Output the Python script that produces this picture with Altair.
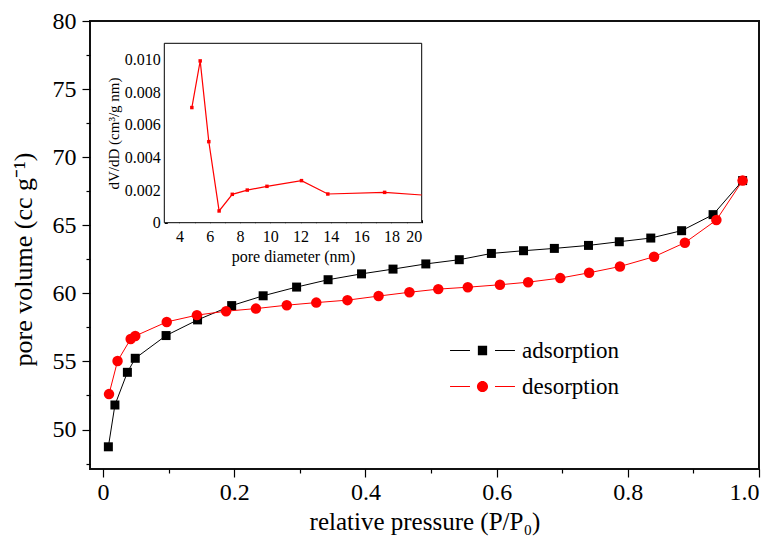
import altair as alt
import pandas as pd

# ---- main isotherm data ----
ads_x = [0.008, 0.018, 0.037, 0.049, 0.096, 0.144, 0.196, 0.244, 0.295, 0.343, 0.394,
         0.442, 0.492, 0.543, 0.592, 0.641, 0.688, 0.740, 0.787, 0.835, 0.882, 0.930, 0.975]
ads_y = [48.73, 51.8, 54.2, 55.23, 56.9, 58.05, 59.1, 59.82, 60.46, 61.0, 61.43,
         61.78, 62.16, 62.47, 62.93, 63.13, 63.3, 63.52, 63.79, 64.06, 64.6, 65.78, 68.28]

des_x = [0.975, 0.935, 0.887, 0.840, 0.788, 0.741, 0.697, 0.648, 0.605, 0.556, 0.511, 0.467,
         0.420, 0.3725, 0.325, 0.280, 0.233, 0.1875, 0.143, 0.097, 0.049, 0.042, 0.022, 0.009]
des_y = [68.28, 65.38, 63.72, 62.69, 61.97, 61.51, 61.12, 60.82, 60.63, 60.45, 60.31, 60.08,
         59.8, 59.5, 59.32, 59.13, 58.88, 58.69, 58.4, 57.9, 56.87, 56.65, 55.03, 52.6]

series_names = ["adsorption", "desorption"]
series_colors = ["black", "red"]

# ---- inset pore size distribution ----
pd_x = [4.82, 5.37, 5.94, 6.62, 7.49, 8.48, 9.78, 12.06, 13.80, 17.55, 20.0]
pd_y = [0.00706, 0.00992, 0.00497, 0.00072, 0.00174, 0.00200, 0.00223, 0.00258, 0.00176, 0.00186, 0.00170]

main_x_major = [0.0, 0.2, 0.4, 0.6, 0.8, 1.0]
main_x_minor = [0.1, 0.3, 0.5, 0.7, 0.9]
main_y_major = [50, 55, 60, 65, 70, 75, 80]
main_y_minor = [47.5, 52.5, 57.5, 62.5, 67.5, 72.5, 77.5]
inset_x_ticks = list(range(4, 21))
inset_y_ticks = [round(i * 0.001, 3) for i in range(11)]
inset_x_domain = [3, 20]
inset_y_domain = [0, 0.011]

FONT = "Liberation Serif"
W, H = 669, 448

main_df = pd.DataFrame({
    "p": ads_x + des_x,
    "v": ads_y + des_y,
    "series": [series_names[0]] * len(ads_x) + [series_names[1]] * len(des_x),
    "order": list(range(len(ads_x))) + list(range(len(des_x))),
})
inset_df = pd.DataFrame({"d": pd_x, "dv": pd_y})
frame_df = pd.DataFrame({"x0": [inset_x_domain[0]], "x1": [inset_x_domain[1]],
                         "y0": [inset_y_domain[0]], "y1": [inset_y_domain[1]]})
legend_df = pd.DataFrame({"series": series_names})

xs = alt.Scale(domain=[-0.02, 1.0], nice=False, zero=False)
ys = alt.Scale(domain=[47.1, 80], nice=False, zero=False)
cs = alt.Scale(domain=series_names, range=series_colors)

x_axis = alt.Axis(
    orient="bottom", values=main_x_major, title="relative pressure (P/P₀)", grid=False, domain=False,
    labelExpr="datum.value == 0 ? '0' : format(datum.value, '.1f')", labelOverlap=False,
    tickSize=8, tickColor="black", tickWidth=1.2, labelFont=FONT, labelFontSize=24, labelColor="black",
    labelPadding=3, titleFont=FONT, titleFontSize=25, titleFontWeight="normal", titleColor="black",
    titlePadding=5,
)
y_axis = alt.Axis(
    orient="left", values=main_y_major, title="pore volume (cc g⁻¹)", grid=False, domain=False,
    format="d", labelOverlap=False,
    tickSize=8, tickColor="black", tickWidth=1.2, labelFont=FONT, labelFontSize=24, labelColor="black",
    labelPadding=6, titleFont=FONT, titleFontSize=26, titleFontWeight="normal", titleColor="black",
    titlePadding=16, titleY=238,
)

base = alt.Chart(main_df)

lines = base.mark_line(strokeWidth=1).encode(
    x=alt.X("p:Q", scale=xs, axis=x_axis),
    y=alt.Y("v:Q", scale=ys, axis=y_axis),
    color=alt.Color("series:N", scale=cs, legend=None),
    order="order:Q",
)
points = base.mark_point(filled=True, opacity=1).encode(
    x=alt.X("p:Q", scale=xs),
    y=alt.Y("v:Q", scale=ys),
    color=alt.Color("series:N", scale=cs, legend=None),
    shape=alt.Shape("series:N", scale=alt.Scale(domain=series_names, range=["square", "circle"]), legend=None),
    size=alt.Size("series:N", scale=alt.Scale(domain=series_names, range=[81, 110]), legend=None),
)
main_layer = alt.layer(lines, points)

# minor ticks: a second (identical) scale whose axes carry only the short ticks
minor_layer = base.mark_point(opacity=0).encode(
    x=alt.X("p:Q", scale=xs, axis=alt.Axis(
        orient="bottom", values=main_x_minor, labels=False, tickSize=4, tickColor="black",
        tickWidth=1.2, domain=False, grid=False, title=None)),
    y=alt.Y("v:Q", scale=ys, axis=alt.Axis(
        orient="left", values=main_y_minor, labels=False, tickSize=4, tickColor="black",
        tickWidth=1.2, domain=False, grid=False, title=None)),
)

# ---- legend (line - marker - line symbols), one legend per series ----
seg = "M-7,-0.11H-2.7V0.11H-7ZM2.7,-0.11H7V0.11H2.7Z"
sym_paths = [seg + "M-1,-1H1V1H-1Z",
             seg + "M-1.2,0A1.2,1.2 0 1,0 1.2,0A1.2,1.2 0 1,0 -1.2,0Z"]
legend_layers = []
for i, (name, col, path) in enumerate(zip(series_names, series_colors, sym_paths)):
    legend_layers.append(
        alt.Chart(legend_df).transform_filter(alt.datum.series == name)
        .mark_point(filled=True, fill=col, stroke=col, color=col, strokeWidth=1, opacity=0)
        .encode(shape=alt.Shape("series:N", scale=alt.Scale(domain=[name], range=[path]),
                                legend=alt.Legend(
                                    orient="none", legendX=381, legendY=318 + 36 * i, title=None,
                                    padding=0, labelFont=FONT, labelFontSize=23, labelColor="black",
                                    labelOffset=28, labelLimit=300, symbolSize=86,
                                    symbolStrokeWidth=1, symbolOpacity=1,
                                    symbolFillColor=col, symbolStrokeColor=col)))
    )

# ---- inset ----
ix = alt.Scale(domain=inset_x_domain, range=[74.3, 331.7], nice=False, zero=False)
iy = alt.Scale(domain=inset_y_domain, range=[201.7, 22.3], nice=False, zero=False)

ix_axis = alt.Axis(
    orient="bottom", offset=-(H - 201.7), values=inset_x_ticks, grid=False, domain=False,
    labelExpr="datum.value % 2 == 0 ? datum.label : ''", labelOverlap=False,
    tickSize={"expr": "-3"}, tickColor="black", labelFont=FONT, labelFontSize=16, labelColor="black",
    labelPadding=9, title="pore diameter (nm)", titleFont=FONT, titleFontSize=16,
    titleFontWeight="normal", titleColor="black", titlePadding=4,
)
iy_axis = alt.Axis(
    orient="left", offset=-74.3, values=inset_y_ticks, grid=False, domain=False,
    labelExpr="round(datum.value*1000) % 2 == 0 ? (datum.value == 0 ? '0' : format(datum.value, '.3f')) : ''",
    labelOverlap=False,
    tickSize={"expr": "-3"}, tickColor="black", labelFont=FONT, labelFontSize=16, labelColor="black",
    labelPadding=7, title="dV/dD (cm³/g nm)", titleFont=FONT, titleFontSize=15,
    titleFontWeight="normal", titleColor="black", titlePadding=3,
)

frame = alt.Chart(frame_df).mark_rect(fill="white", stroke="black", strokeWidth=1).encode(
    x=alt.X("x0:Q", scale=ix, axis=ix_axis),
    x2="x1:Q",
    y=alt.Y("y0:Q", scale=iy, axis=iy_axis),
    y2="y1:Q",
)
ibase = alt.Chart(inset_df)
iline = ibase.mark_line(color="red", strokeWidth=1.2).encode(
    x=alt.X("d:Q", scale=ix), y=alt.Y("dv:Q", scale=iy))
ipts = ibase.transform_filter("datum.d < 20").mark_point(
    shape="square", filled=True, color="red", size=12, opacity=1).encode(
    x=alt.X("d:Q", scale=ix), y=alt.Y("dv:Q", scale=iy))

inset_layer = alt.layer(frame, iline, ipts)

chart = alt.layer(minor_layer, main_layer, inset_layer, *legend_layers).resolve_scale(
    x="independent", y="independent", shape="independent", color="independent"
).properties(
    width=W, height=H,
    autosize=alt.AutoSizeParams(type="none"),
    padding={"left": 90, "top": 21, "right": 15, "bottom": 75},
    background="white",
).configure_view(stroke="#111", strokeWidth=2)

chart.save("out.html", embed_options={"renderer": "svg", "actions": False})
